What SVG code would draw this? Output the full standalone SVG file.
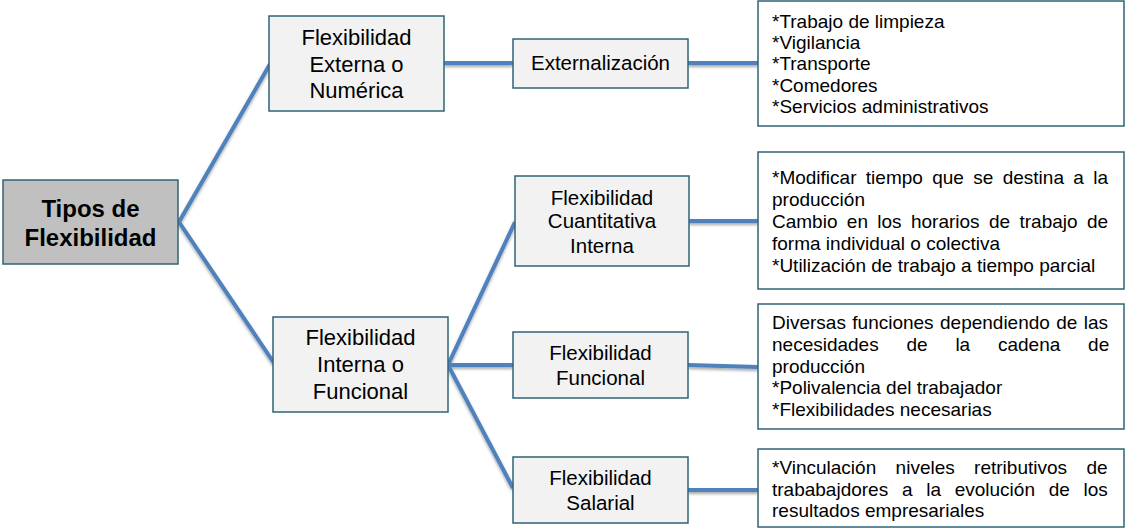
<svg xmlns="http://www.w3.org/2000/svg" width="1125" height="531" viewBox="0 0 1125 531">
<defs>
<filter id="sh" x="-20%" y="-50%" width="140%" height="200%">
<feDropShadow dx="0" dy="2" stdDeviation="1.5" flood-color="#000" flood-opacity="0.35"/>
</filter>
<style>
.box{stroke:#2f6377;stroke-width:1.5}
.root{fill:#c0c0c0}
.mid{fill:#f2f2f2}
.det{fill:#ffffff}
.conn{fill:none;stroke:#4f81bd;stroke-width:4;stroke-linecap:butt}
text{font-family:"Liberation Sans",Arial,sans-serif;fill:#000}
.c{text-anchor:middle}
.t24{font-size:24px;font-weight:bold}
.t22{font-size:22px}
.t20{font-size:20.5px}
.t19{font-size:19px}
</style>
</defs>
<rect width="1125" height="531" fill="#ffffff"/>
<g id="connectors" filter="url(#sh)">
<polyline class="conn" points="270,64 179,222 274,363"/>
<line class="conn" x1="444" y1="63" x2="513" y2="63"/>
<line class="conn" x1="688" y1="63" x2="758" y2="63"/>
<polyline class="conn" points="515,222 448,365 513,488"/>
<line class="conn" x1="448" y1="365" x2="513" y2="365"/>
<line class="conn" x1="689" y1="221" x2="758" y2="221"/>
<line class="conn" x1="688" y1="365" x2="758" y2="367"/>
<line class="conn" x1="688" y1="490" x2="758" y2="490"/>
</g>
<g id="root">
<rect class="box root" x="3" y="180" width="175" height="84"/>
<text class="c t24" x="90.5" y="216.5">Tipos de</text>
<text class="c t24" x="90.5" y="245.5">Flexibilidad</text>
</g>
<g id="externa">
<rect class="box mid" x="269" y="16" width="175" height="95"/>
<text class="c t22" x="356.5" y="44.5">Flexibilidad</text>
<text class="c t22" x="356.5" y="71.5">Externa o</text>
<text class="c t22" x="356.5" y="98">Numérica</text>
</g>
<g id="interna">
<rect class="box mid" x="273" y="317" width="175" height="95"/>
<text class="c t22" x="360.5" y="345">Flexibilidad</text>
<text class="c t22" x="360.5" y="372">Interna o</text>
<text class="c t22" x="360.5" y="399">Funcional</text>
</g>
<g id="externalizacion">
<rect class="box mid" x="513" y="39" width="175" height="49"/>
<text class="c t20" x="600.5" y="70">Externalización</text>
</g>
<g id="cuantitativa">
<rect class="box mid" x="515" y="176" width="174" height="90"/>
<text class="c t20" x="602" y="205">Flexibilidad</text>
<text class="c t20" x="602" y="228">Cuantitativa</text>
<text class="c t20" x="602" y="252.5">Interna</text>
</g>
<g id="funcional">
<rect class="box mid" x="513" y="332" width="175" height="66"/>
<text class="c t20" x="600.5" y="360">Flexibilidad</text>
<text class="c t20" x="600.5" y="385">Funcional</text>
</g>
<g id="salarial">
<rect class="box mid" x="513" y="457" width="175" height="66"/>
<text class="c t20" x="600.5" y="485">Flexibilidad</text>
<text class="c t20" x="600.5" y="510">Salarial</text>
</g>
<g id="detalle-externa">
<rect class="box det" x="758" y="1" width="366" height="125"/>
<text class="t19" x="772" y="27.5">*Trabajo de limpieza</text>
<text class="t19" x="772" y="49">*Vigilancia</text>
<text class="t19" x="772" y="70">*Transporte</text>
<text class="t19" x="772" y="91.5">*Comedores</text>
<text class="t19" x="772" y="113">*Servicios administrativos</text>
</g>
<g id="detalle-cuantitativa">
<rect class="box det" x="758" y="152" width="366" height="137"/>
<text class="t19" x="772" y="183.5" word-spacing="4.08">*Modificar tiempo que se destina a la</text>
<text class="t19" x="772" y="205.5">producción</text>
<text class="t19" x="772" y="227.5" word-spacing="4.08">Cambio en los horarios de trabajo de</text>
<text class="t19" x="772" y="249.5">forma individual o colectiva</text>
<text class="t19" x="772" y="271.5">*Utilización de trabajo a tiempo parcial</text>
</g>
<g id="detalle-funcional">
<rect class="box det" x="758" y="304" width="366" height="125"/>
<text class="t19" x="772" y="328.5" word-spacing="1.1">Diversas funciones dependiendo de las</text>
<text class="t19" x="772" y="350.5" word-spacing="22.5">necesidades de la cadena de</text>
<text class="t19" x="772" y="372.5">producción</text>
<text class="t19" x="772" y="394">*Polivalencia del trabajador</text>
<text class="t19" x="772" y="415.5">*Flexibilidades necesarias</text>
</g>
<g id="detalle-salarial">
<rect class="box det" x="758" y="449" width="366" height="78"/>
<text class="t19" x="772" y="474" word-spacing="14.1">*Vinculación niveles retributivos de</text>
<text class="t19" x="772" y="495.5" word-spacing="8.44">trababajdores a la evolución de los</text>
<text class="t19" x="772" y="517">resultados empresariales</text>
</g>
</svg>
